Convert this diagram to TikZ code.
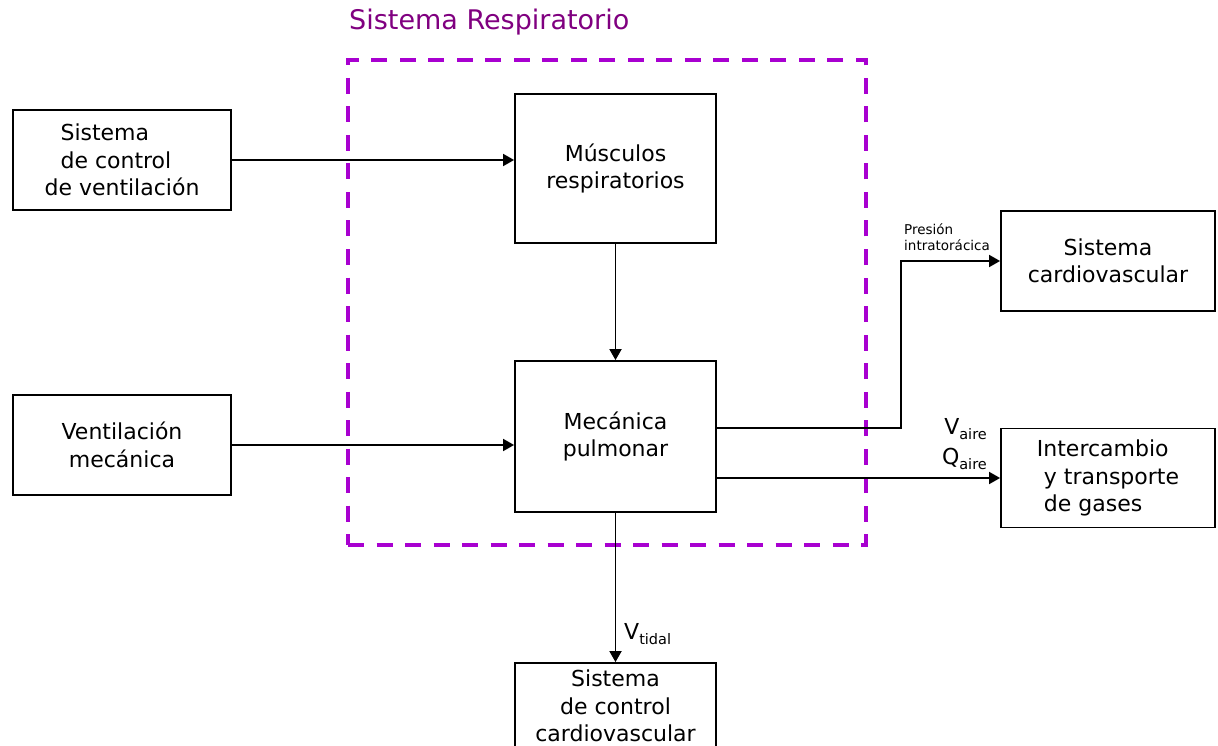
\documentclass[tikz,border=0pt]{standalone}
\usepackage{fontspec}
\setmainfont{DejaVu Sans}
\usetikzlibrary{arrows.meta}
\definecolor{dashpurple}{RGB}{168,0,208}
\definecolor{titlepurple}{RGB}{128,0,128}
\newcommand{\sbs}[1]{{\fontsize{14.5}{14.5}\selectfont\raisebox{-5pt}{#1}}}
\begin{document}
\begin{tikzpicture}[x=1pt,y=-1pt,
  blk/.style={draw=black, line width=1.8pt, inner sep=0pt, font=\fontsize{22}{27.5}\selectfont},
  arr/.style={draw=black, line width=1.8pt, -{Triangle[length=11pt,width=12pt]}},
  small/.style={inner sep=0pt, font=\fontsize{13.5}{16}\selectfont, align=left},
  lbl/.style={inner sep=0pt, font=\fontsize{22}{30}\selectfont},
  dashbox/.style={draw=dashpurple, line width=3.5pt, dash pattern=on 16pt off 12.5pt, inner sep=0pt}]
\useasboundingbox (0,0) rectangle (1218,746);

\node[dashbox, minimum width=518pt, minimum height=485pt] (sr) at (607,302.5) {};
\node[anchor=west, inner sep=0pt, text=titlepurple, font=\fontsize{27}{30}\selectfont] (title) at (349,22) {Sistema Respiratorio};

\node[blk, minimum width=218pt, minimum height=100pt, align=left] (ctrl) at (122,160) {\hspace*{16pt}Sistema\\\hspace*{16pt}de control\\de ventilación};
\node[blk, minimum width=218pt, minimum height=100pt, align=center] (vent) at (122,445) {Ventilación\\mecánica};
\node[blk, minimum width=201pt, minimum height=149pt, align=center] (musc) at (615.5,168.5) {Músculos\\respiratorios};
\node[blk, minimum width=201pt, minimum height=151pt, align=center] (mec) at (615.5,436.5) {Mecánica\\pulmonar};
\node[blk, minimum width=214pt, minimum height=100pt, align=center] (cardio) at (1108,261) {Sistema\\cardiovascular};
\node[blk, minimum width=214pt, minimum height=99pt, align=left] (inter) at (1108,478) {Intercambio\\\hspace*{7pt}y transporte\\\hspace*{7pt}de gases};
\node[blk, minimum width=201pt, minimum height=86pt, align=center] (ctrlcv) at (615.5,706) {Sistema\\de control\\cardiovascular};

\draw[arr] (ctrl.east) -- (musc.west |- ctrl.east);
\draw[arr] (vent.east) -- (mec.west |- vent.east);
\draw[arr] (musc.south) -- (mec.north);
\draw[arr] ([yshift=8.5pt]mec.east) -- ++(184,0) |- (cardio.west);
\draw[arr] ([yshift=-41.5pt]mec.east) -- (inter.west);
\draw[arr] (mec.south) -- (ctrlcv.north);

\node[small, anchor=south west] (pres) at (904,251) {Presión\\intratorácica};
\node[lbl, anchor=south east, align=right] (vq) at (987,470) {V\sbs{aire}\\Q\sbs{aire}};
\node[lbl, anchor=west] (vt) at (624,634) {V\sbs{tidal}};
\end{tikzpicture}
\end{document}
